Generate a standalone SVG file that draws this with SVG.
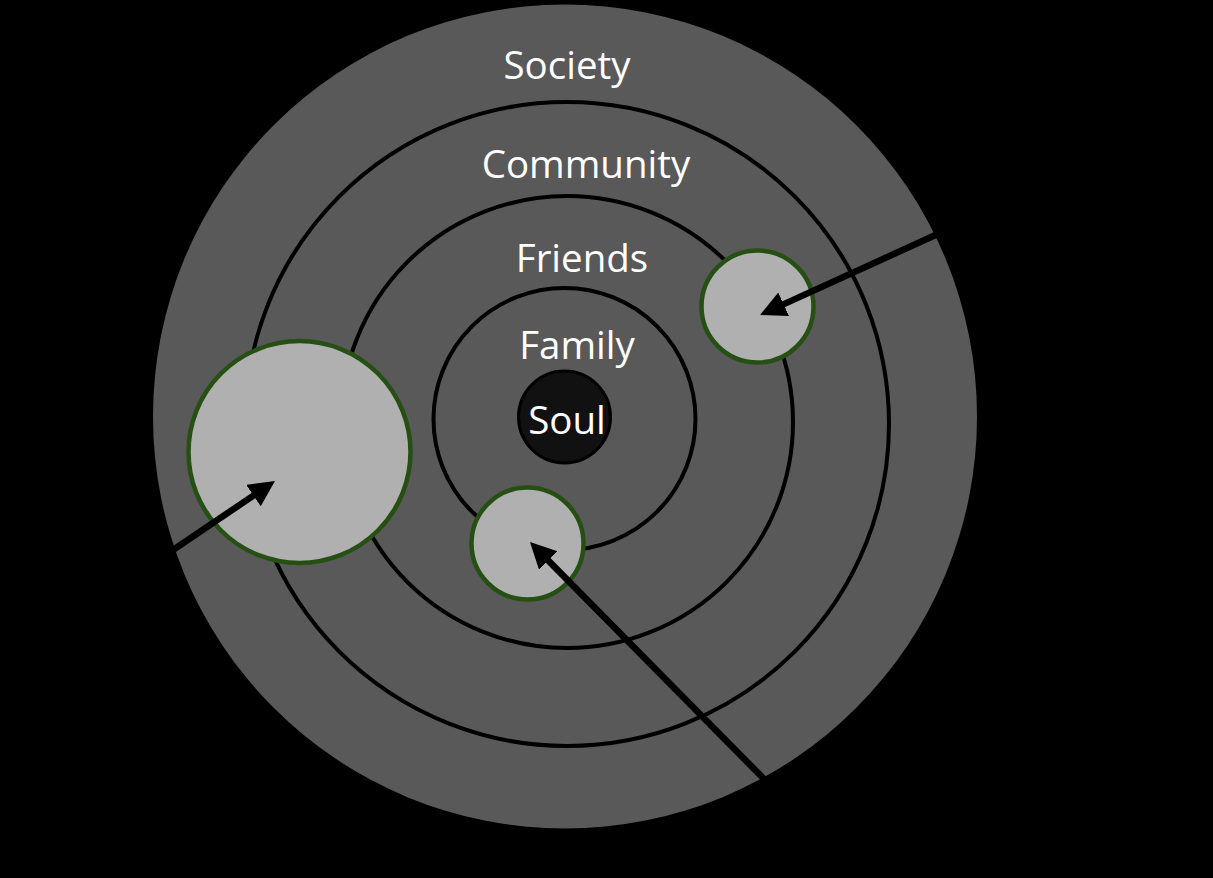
<svg xmlns="http://www.w3.org/2000/svg" width="1213" height="878" viewBox="0 0 1213 878">
<style>
.ring{fill:none;stroke:#000;stroke-width:4}
.bubble{fill:#b0b0b0;stroke:#264f14;stroke-width:4.5}
.lbl{font-family:"Open Sans","Liberation Sans",sans-serif;font-size:38.5px;fill:#fff;text-anchor:middle}
.conn{stroke:#000;stroke-width:6.5;fill:none;marker-end:url(#ah)}
</style>
<defs>
<marker id="ah" markerUnits="userSpaceOnUse" markerWidth="30" markerHeight="30" refX="16" refY="13" orient="auto">
<path d="M0,0 L26,13 L0,26 z" fill="#000"/>
</marker>
</defs>
<rect width="1213" height="878" fill="#000"/>
<g id="society"><circle cx="565" cy="416.5" r="412" fill="#595959"/><text class="lbl" x="567" y="79">Society</text></g>
<g id="community"><circle class="ring" cx="567" cy="424" r="322"/><text class="lbl" x="586" y="178">Community</text></g>
<g id="friends"><circle class="ring" cx="567" cy="422" r="226"/><text class="lbl" x="582" y="272">Friends</text></g>
<g id="family"><circle class="ring" cx="564.5" cy="419" r="131"/><text class="lbl" x="577" y="359">Family</text></g>
<g id="soul"><circle cx="564.5" cy="417" r="46" fill="#111" stroke="#000" stroke-width="3"/><text class="lbl" x="567" y="434">Soul</text></g>
<g id="bubble-large"><circle class="bubble" cx="299.5" cy="452" r="111"/></g>
<g id="bubble-right"><circle class="bubble" cx="757.5" cy="306.5" r="56"/></g>
<g id="bubble-bottom"><circle class="bubble" cx="527.5" cy="543.5" r="56"/></g>
<g id="connectors">
<line class="conn" x1="940" y1="233" x2="769.1" y2="310.9"/>
<line class="conn" x1="170" y1="552" x2="266.7" y2="486.6"/>
<line class="conn" x1="766" y1="781" x2="537" y2="549.1"/>
</g>
</svg>
